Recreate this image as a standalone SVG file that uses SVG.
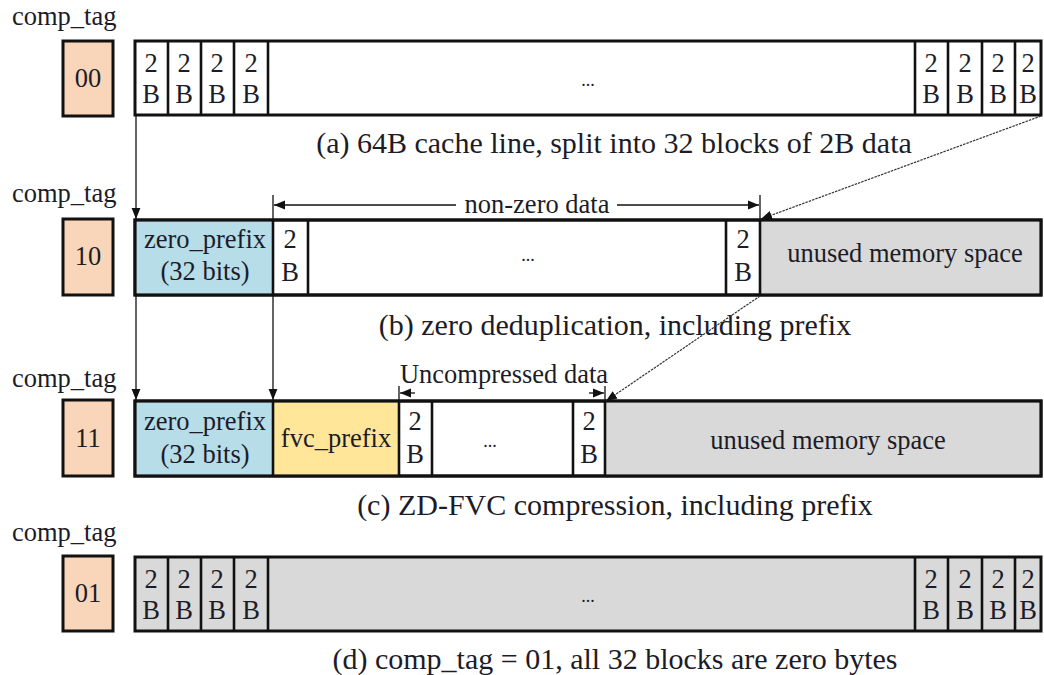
<svg xmlns="http://www.w3.org/2000/svg" width="1044" height="675" viewBox="0 0 1044 675">
<defs>
<style>
text{font-family:"Liberation Serif","Times New Roman",Times,serif;fill:#1c1c28}
.lbl{font-size:26.5px}
.cell{font-size:26.5px;text-anchor:middle}
.cap{font-size:30px;text-anchor:middle}
.dots{font-size:18px;text-anchor:middle}
.tag{fill:#f9d6b9;stroke:#111;stroke-width:3}
.box{stroke:#111;stroke-width:3}
.div{stroke:#111;stroke-width:2.6}
.w{fill:#fff}
.g{fill:#d9d9d9}
.bl{fill:#b7dde8}
.ye{fill:#ffe699}
.con{stroke:#111;stroke-width:1.3;fill:none}
.dg{stroke:#333;stroke-width:1.2;fill:none;stroke-dasharray:2.5 1}
</style>
<marker id="ah" viewBox="0 0 10 10" refX="10" refY="5" markerWidth="11" markerHeight="11" markerUnits="userSpaceOnUse" orient="auto">
<path d="M0,1 L10,5 L0,9 z" fill="#111"/>
</marker>
</defs>
<rect width="1044" height="675" fill="#fff"/>

<!-- row a -->
<g id="row-a">
<text class="lbl" x="12" y="25">comp_tag</text>
<rect class="tag" x="63" y="41" width="50" height="75"/>
<text class="cell" x="88" y="87">00</text>
<rect class="box w" x="135" y="41" width="906" height="74"/>
<line class="div" x1="168" y1="41" x2="168" y2="115"/>
<line class="div" x1="201" y1="41" x2="201" y2="115"/>
<line class="div" x1="234" y1="41" x2="234" y2="115"/>
<line class="div" x1="268" y1="41" x2="268" y2="115"/>
<line class="div" x1="915" y1="41" x2="915" y2="115"/>
<line class="div" x1="948" y1="41" x2="948" y2="115"/>
<line class="div" x1="982" y1="41" x2="982" y2="115"/>
<line class="div" x1="1015" y1="41" x2="1015" y2="115"/>
<text class="cell" x="151" y="72">2</text><text class="cell" x="151" y="103">B</text>
<text class="cell" x="184" y="72">2</text><text class="cell" x="184" y="103">B</text>
<text class="cell" x="217" y="72">2</text><text class="cell" x="217" y="103">B</text>
<text class="cell" x="251" y="72">2</text><text class="cell" x="251" y="103">B</text>
<text class="cell" x="931" y="72">2</text><text class="cell" x="931" y="103">B</text>
<text class="cell" x="965" y="72">2</text><text class="cell" x="965" y="103">B</text>
<text class="cell" x="998" y="72">2</text><text class="cell" x="998" y="103">B</text>
<text class="cell" x="1028" y="72">2</text><text class="cell" x="1028" y="103">B</text>
<text class="dots" x="588" y="86">...</text>
<text class="cap" x="614" y="153">(a) 64B cache line, split into 32 blocks of 2B data</text>
</g>

<!-- row b -->
<g id="row-b">
<text class="lbl" x="12" y="202">comp_tag</text>
<rect class="tag" x="63" y="219" width="50" height="76"/>
<text class="cell" x="88" y="265">10</text>
<rect class="box w" x="135" y="220" width="906" height="75"/>
<rect class="bl" x="136.5" y="221.5" width="136" height="72"/>
<rect class="g" x="760" y="221.5" width="279.5" height="72"/>
<rect class="box" fill="none" x="135" y="220" width="906" height="75"/>
<line class="div" x1="273" y1="220" x2="273" y2="295"/>
<line class="div" x1="308" y1="220" x2="308" y2="295"/>
<line class="div" x1="726" y1="220" x2="726" y2="295"/>
<line class="div" x1="760" y1="220" x2="760" y2="295"/>
<text class="cell" x="205" y="248">zero_prefix</text>
<text class="cell" x="205" y="280">(32 bits)</text>
<text class="cell" x="290" y="248">2</text><text class="cell" x="290" y="281">B</text>
<text class="cell" x="743" y="248">2</text><text class="cell" x="743" y="281">B</text>
<text class="dots" x="528" y="261">...</text>
<text class="cell" x="905" y="262">unused memory space</text>
<text class="cap" x="615" y="335">(b) zero deduplication, including prefix</text>
</g>

<!-- row c -->
<g id="row-c">
<text class="lbl" x="12" y="387">comp_tag</text>
<rect class="tag" x="63" y="400" width="50" height="76"/>
<text class="cell" x="88" y="447">11</text>
<rect class="box w" x="135" y="401" width="906" height="75"/>
<rect class="bl" x="136.5" y="402.5" width="136" height="72"/>
<rect class="ye" x="273" y="402.5" width="126" height="72"/>
<rect class="g" x="605" y="402.5" width="434.5" height="72"/>
<rect class="box" fill="none" x="135" y="401" width="906" height="75"/>
<line class="div" x1="273" y1="401" x2="273" y2="476"/>
<line class="div" x1="399" y1="401" x2="399" y2="476"/>
<line class="div" x1="432" y1="401" x2="432" y2="476"/>
<line class="div" x1="573" y1="401" x2="573" y2="476"/>
<line class="div" x1="605" y1="401" x2="605" y2="476"/>
<text class="cell" x="205" y="430">zero_prefix</text>
<text class="cell" x="205" y="463">(32 bits)</text>
<text class="cell" x="336" y="447">fvc_prefix</text>
<text class="cell" x="415" y="430">2</text><text class="cell" x="415" y="463">B</text>
<text class="cell" x="589" y="430">2</text><text class="cell" x="589" y="463">B</text>
<text class="dots" x="490" y="447">...</text>
<text class="cell" x="828" y="449">unused memory space</text>
<text class="cap" x="615" y="515">(c) ZD-FVC compression, including prefix</text>
</g>

<!-- row d -->
<g id="row-d">
<text class="lbl" x="12" y="541">comp_tag</text>
<rect class="tag" x="63" y="556" width="50" height="75"/>
<text class="cell" x="88" y="602">01</text>
<rect class="box g" x="135" y="557" width="906" height="74"/>
<line class="div" x1="168" y1="557" x2="168" y2="631"/>
<line class="div" x1="201" y1="557" x2="201" y2="631"/>
<line class="div" x1="234" y1="557" x2="234" y2="631"/>
<line class="div" x1="268" y1="557" x2="268" y2="631"/>
<line class="div" x1="915" y1="557" x2="915" y2="631"/>
<line class="div" x1="948" y1="557" x2="948" y2="631"/>
<line class="div" x1="982" y1="557" x2="982" y2="631"/>
<line class="div" x1="1015" y1="557" x2="1015" y2="631"/>
<text class="cell" x="151" y="588">2</text><text class="cell" x="151" y="619">B</text>
<text class="cell" x="184" y="588">2</text><text class="cell" x="184" y="619">B</text>
<text class="cell" x="217" y="588">2</text><text class="cell" x="217" y="619">B</text>
<text class="cell" x="251" y="588">2</text><text class="cell" x="251" y="619">B</text>
<text class="cell" x="931" y="588">2</text><text class="cell" x="931" y="619">B</text>
<text class="cell" x="965" y="588">2</text><text class="cell" x="965" y="619">B</text>
<text class="cell" x="998" y="588">2</text><text class="cell" x="998" y="619">B</text>
<text class="cell" x="1028" y="588">2</text><text class="cell" x="1028" y="619">B</text>
<text class="dots" x="588" y="602">...</text>
<text class="cap" x="615" y="669">(d) comp_tag = 01, all 32 blocks are zero bytes</text>
</g>

<!-- connectors -->
<g id="connectors">
<line class="con" x1="136" y1="116" x2="136" y2="219" marker-end="url(#ah)"/>
<line class="dg" x1="1041" y1="116" x2="761" y2="219" marker-end="url(#ah)"/>
<line class="con" x1="273" y1="195" x2="273" y2="220"/>
<line class="con" x1="760" y1="195" x2="760" y2="220"/>
<line class="con" x1="320" y1="205" x2="274" y2="205" marker-end="url(#ah)"/>
<line class="con" x1="320" y1="205" x2="456" y2="205"/>
<line class="con" x1="617" y1="205" x2="759" y2="205" marker-end="url(#ah)"/>
<text class="cell" x="537" y="213">non-zero data</text>
<line class="con" x1="136" y1="296" x2="136" y2="400" marker-end="url(#ah)"/>
<line class="con" x1="273" y1="296" x2="273" y2="400" marker-end="url(#ah)"/>
<line class="dg" x1="760" y1="296" x2="606" y2="401" marker-end="url(#ah)"/>
<line class="con" x1="399" y1="386" x2="399" y2="401"/>
<line class="con" x1="605" y1="386" x2="605" y2="401"/>
<line class="con" x1="415" y1="393" x2="400" y2="393" marker-end="url(#ah)"/>
<line class="con" x1="589" y1="393" x2="604" y2="393" marker-end="url(#ah)"/>
<text class="cell" x="504" y="383">Uncompressed data</text>
</g>
</svg>
